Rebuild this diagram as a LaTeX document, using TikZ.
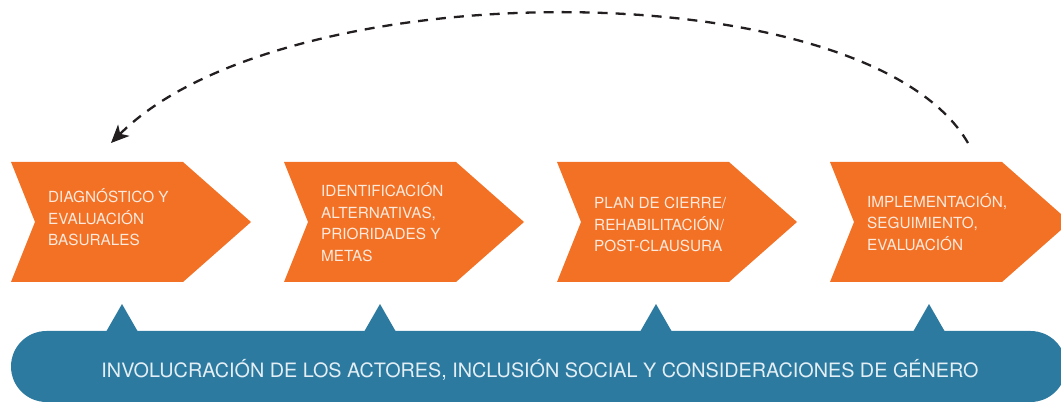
\documentclass[tikz,border=0pt]{standalone}
\usepackage{fontspec}
\setmainfont{TeX Gyre Heros}
\usepackage{xcolor}
\usepackage{tikz}
\usetikzlibrary{arrows.meta}
\definecolor{stageorange}{HTML}{F37124}
\definecolor{bandblue}{HTML}{2C7AA0}
\definecolor{stagetext}{HTML}{FDE9DD}
\definecolor{bandtext}{HTML}{E4EFF5}
\definecolor{ink}{HTML}{231F20}
\tikzset{
  chev/.style={fill=stageorange},
  pin/.style={fill=bandblue},
  slab/.style={text=stagetext, font=\fontsize{15.3}{21.5}\selectfont, align=left, anchor=base west, inner sep=0pt},
  blab/.style={text=bandtext, font=\fontsize{19.8}{22}\selectfont, anchor=base, inner sep=0pt},
  back/.style={draw=ink, line width=2.3pt, dash pattern=on 10pt off 8pt, -{Stealth[length=18pt, width=16pt, inset=5pt]}},
}

\begin{document}
\begin{tikzpicture}[x=1pt, y=-1pt]
  \useasboundingbox (0,0) rectangle (1061,403);
  \clip (0,0) rectangle (1061,403);

  \coordinate (c1) at (11,162);   % first stage, top left
  \coordinate (c2) at (284,162);  % second stage
  \coordinate (c3) at (557,162);  % third stage
  \coordinate (c4) at (830,162);  % fourth stage
  \coordinate (p1) at (122,304);  % pointer tips
  \coordinate (p2) at (380,304);
  \coordinate (p3) at (656,304);
  \coordinate (p4) at (929,304);
  \coordinate (from) at (968,143); % start of the return arrow
  \coordinate (to) at (111,143);   % its tip

  \fill[chev] (c1) -- ++(172,0) -- ++(68,60) -- ++(-68,60) -- ++(-172,0) -- ++(24,-60) -- cycle;
  \fill[chev] (c2) -- ++(172,0) -- ++(68,60) -- ++(-68,60) -- ++(-172,0) -- ++(24,-60) -- cycle;
  \fill[chev] (c3) -- ++(172,0) -- ++(68,60) -- ++(-68,60) -- ++(-172,0) -- ++(24,-60) -- cycle;
  \fill[chev] (c4) -- ++(172,0) -- ++(68,60) -- ++(-68,60) -- ++(-172,0) -- ++(24,-60) -- cycle;

  % base anchor sits on the last line
  \node[slab] (s1) at (48,245.7) {DIAGNÓSTICO Y\\EVALUACIÓN\\BASURALES};
  \node[slab] (s2) at (321,261.1) {IDENTIFICACIÓN\\ALTERNATIVAS,\\PRIORIDADES Y\\METAS};
  \node[slab] (s3) at (594,251.6) {PLAN DE CIERRE/\\REHABILITACIÓN/\\POST-CLAUSURA};
  \node[slab] (s4) at (867,250.3) {IMPLEMENTACIÓN,\\SEGUIMIENTO,\\EVALUACIÓN};

  \fill[pin] (p1) -- ++(15.5,27) -- ++(-31,0) -- cycle;
  \fill[pin] (p2) -- ++(15.5,27) -- ++(-31,0) -- cycle;
  \fill[pin] (p3) -- ++(15.5,27) -- ++(-31,0) -- cycle;
  \fill[pin] (p4) -- ++(15.5,27) -- ++(-31,0) -- cycle;
  \fill[pin, rounded corners=35.5pt] (11,331) rectangle (1066,402);
  \node[blab] (actors) at (540,378) {INVOLUCRACIÓN DE LOS ACTORES, INCLUSIÓN SOCIAL Y CONSIDERACIONES DE GÉNERO};

  \draw[back] (from) .. controls (868,-30) and (284,-30) .. (to);
\end{tikzpicture}
\end{document}
